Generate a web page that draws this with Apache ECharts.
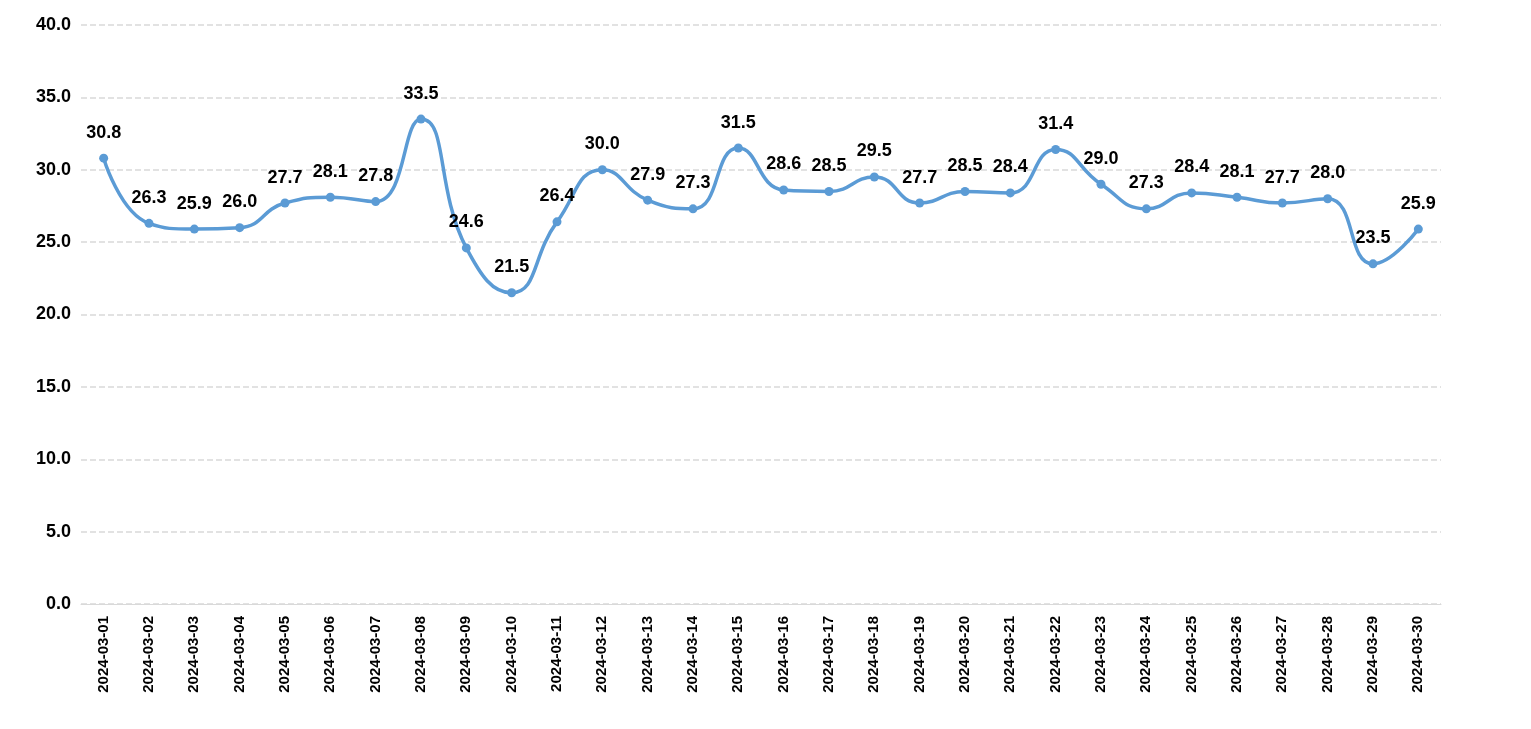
<!DOCTYPE html>
<html>
<head>
<meta charset="utf-8">
<script src="https://cdn.jsdelivr.net/npm/echarts@6/dist/echarts.min.js"></script>
<style>html,body{margin:0;padding:0;background:#fff}#chart{width:1531px;height:729px}</style>
</head>
<body>
<div id="chart"></div>
<script>
const dates = [];
for (let d = 1; d <= 30; d++) dates.push('2024-03-' + String(d).padStart(2, '0'));
const values = [30.8, 26.3, 25.9, 26.0, 27.7, 28.1, 27.8, 33.5, 24.6, 21.5, 26.4, 30.0, 27.9, 27.3, 31.5,
  28.6, 28.5, 29.5, 27.7, 28.5, 28.4, 31.4, 29.0, 27.3, 28.4, 28.1, 27.7, 28.0, 23.5, 25.9];

const chart = echarts.init(document.getElementById('chart'));
chart.setOption({
  animation: false,
  textStyle: {fontFamily: 'Arial, Liberation Sans, sans-serif'},
  grid: {left: 81, right: 90, top: 25, bottom: 125},
  xAxis: {
    type: 'category',
    data: dates,
    boundaryGap: true,
    axisTick: {show: false},
    axisLine: {lineStyle: {color: '#d9d9d9'}},
    axisLabel: {rotate: 90, color: '#000', fontWeight: 'bold', fontSize: 15, interval: 0, margin: 12}
  },
  yAxis: {
    type: 'value',
    min: 0, max: 40, interval: 5,
    axisLabel: {color: '#000', fontWeight: 'bold', fontSize: 18, formatter: v => v.toFixed(1), margin: 10},
    splitLine: {lineStyle: {color: '#d9d9d9', type: 'dashed', width: 1.5}}
  },
  series: [{
    type: 'line',
    data: values,
    smooth: 0.5,
    symbol: 'circle',
    symbolSize: 9,
    lineStyle: {color: '#5b9bd5', width: 3.5},
    itemStyle: {color: '#5b9bd5'},
    label: {show: true, position: 'top', distance: 12, color: '#000', fontWeight: 'bold', fontSize: 18,
      formatter: p => p.value.toFixed(1)}
  }]
});
</script>
</body>
</html>
